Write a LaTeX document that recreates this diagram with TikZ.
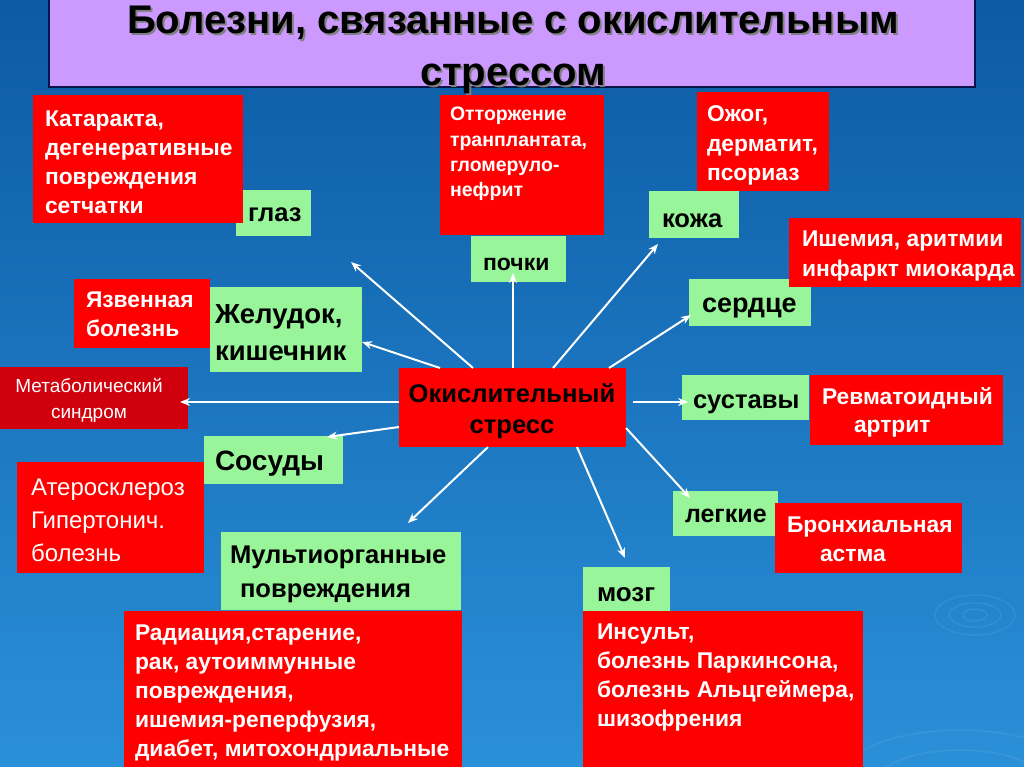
\documentclass[tikz,border=0pt]{standalone}
\usepackage{fontspec}
\setmainfont{Liberation Sans}
\usetikzlibrary{arrows.meta,calc}
\definecolor{bgtop}{RGB}{12,90,164}
\definecolor{bgbot}{RGB}{42,144,216}
\definecolor{ttlfill}{RGB}{204,153,255}
\definecolor{ttlline}{RGB}{10,20,70}
\definecolor{rd}{RGB}{255,0,0}
\definecolor{rdk}{RGB}{208,0,12}
\definecolor{gr}{RGB}{153,245,153}
\newcommand\tstr{\rule{0pt}{1em}}
\begin{document}
\begin{tikzpicture}[x=1pt,y=-1pt,
  box/.style={draw=none,inner sep=0pt,outer sep=0pt,anchor=north west},
  redbox/.style={box,fill=rd},
  grbox/.style={box,fill=gr},
  txt/.style={inner sep=0pt,outer sep=0pt,anchor=north west,align=left},
  wb/.style={txt,text=white,font=\bfseries\fontsize{22.8}{29}\selectfont},
  wr/.style={txt,text=white},
  kb/.style={txt,text=black},
  arr/.style={draw=white,line width=2pt,-{Stealth[length=10pt,width=8pt]}},
  ripple/.style={draw=white,opacity=0.07,line width=1.5pt}
]
\useasboundingbox (0,0) rectangle (1024,767);
\shade[top color=bgtop,bottom color=bgbot] (0,0) rectangle (1024,767);
% ripples
\draw[ripple] (975,615) ellipse [x radius=40,y radius=20];
\draw[ripple] (975,615) ellipse [x radius=26,y radius=12];
\draw[ripple] (975,615) ellipse [x radius=12,y radius=6];
\draw[ripple] (960,790) ellipse [x radius=130,y radius=60];
\draw[ripple] (960,790) ellipse [x radius=90,y radius=40];

% title
\node[box,fill=ttlfill,draw=ttlline,line width=2pt,minimum width=926pt,minimum height=88pt] (title) at (49,-1) {};
\node[txt,anchor=north,align=center,text=gray,font=\bfseries\fontsize{40}{52}\selectfont] (titlesh) at (515,-4) {\tstr Болезни, связанные с окислительным\\стрессом};
\node[txt,anchor=north,align=center,text=black,font=\bfseries\fontsize{40}{52}\selectfont] (titletx) at (513,-6) {\tstr Болезни, связанные с окислительным\\стрессом};

% green boxes
\node[grbox,minimum width=75pt,minimum height=46pt] (glaz) at (236,190) {};
\node[grbox,minimum width=152pt,minimum height=85pt] (zhel) at (210,287) {};
\node[grbox,minimum width=139pt,minimum height=48pt] (sos) at (204,436) {};
\node[grbox,minimum width=240pt,minimum height=78pt] (mult) at (221,532) {};
\node[grbox,minimum width=95pt,minimum height=46pt] (pochki) at (471,236) {};
\node[grbox,minimum width=90pt,minimum height=47pt] (kozha) at (649,191) {};
\node[grbox,minimum width=122pt,minimum height=47pt] (serd) at (689,279) {};
\node[grbox,minimum width=127pt,minimum height=45pt] (sust) at (682,375) {};
\node[grbox,minimum width=105pt,minimum height=45pt] (leg) at (673,491) {};
\node[grbox,minimum width=87pt,minimum height=44pt] (mozg) at (583,567) {};

% red boxes
\node[redbox,minimum width=210pt,minimum height=128pt] (kat) at (33,95) {};
\node[redbox,minimum width=136pt,minimum height=69pt] (yaz) at (74,279) {};
\node[box,fill=rdk,minimum width=188pt,minimum height=62pt] (met) at (0,367) {};
\node[redbox,minimum width=187pt,minimum height=111pt] (ater) at (17,462) {};
\node[redbox,minimum width=338pt,minimum height=160pt] (rad) at (124,611) {};
\node[redbox,minimum width=227pt,minimum height=79pt] (cs) at (399,368) {};
\node[redbox,minimum width=164pt,minimum height=140pt] (ott) at (440,95) {};
\node[redbox,minimum width=132pt,minimum height=99pt] (ozhog) at (697,92) {};
\node[redbox,minimum width=232pt,minimum height=69pt] (ish) at (789,218) {};
\node[redbox,minimum width=193pt,minimum height=70pt] (revm) at (810,375) {};
\node[redbox,minimum width=187pt,minimum height=70pt] (bronh) at (775,503) {};
\node[redbox,minimum width=280pt,minimum height=160pt] (ins) at (583,611) {};

% arrows
\draw[arr] ($(cs.north west)+(74,0)$) -- ($(glaz.south east)+(40,26)$);
\draw[arr] ($(cs.north west)+(41,0)$) -- ($(zhel.north east)+(0,55)$);
\draw[arr] ($(cs.north west)+(114,0)$) -- ($(pochki.south west)+(42,-9)$);
\draw[arr] ($(cs.north west)+(154,0)$) -- ($(kozha.south west)+(9,6)$);
\draw[arr] ($(cs.north west)+(210,0)$) -- ($(serd.north west)+(2,36)$);
\draw[arr] ($(cs.north west)+(0,34)$) -- ($(met.north east)+(-8,35)$);
\draw[arr] ($(cs.north west)+(0,59)$) -- ($(sos.north west)+(123,1)$);
\draw[arr] ($(cs.south west)+(89,0)$) -- ($(mult.north west)+(187,-9)$);
\draw[arr] ($(cs.south west)+(178,0)$) -- ($(mozg.north west)+(42,-9)$);
\draw[arr] ($(cs.north east)+(0,60)$) -- ($(leg.north west)+(17,7)$);
\draw[arr] ($(cs.north east)+(7,34)$) -- ($(sust.north west)+(6,27)$);

% texts in red boxes
\node[wb] (katt) at (45,104) {\tstr Катаракта,\\дегенеративные\\повреждения\\сетчатки};
\node[wb] (yazt) at (86,285) {\tstr Язвенная\\болезнь};
\node[wr,anchor=north,align=center,font=\fontsize{19}{26}\selectfont] (mett) at (89,373) {\tstr Метаболический\\синдром};
\node[wr,font=\fontsize{24}{33}\selectfont] (atert) at (31,471) {\tstr Атеросклероз\\Гипертонич.\\болезнь};
\node[wb] (radt) at (135,618) {\tstr Радиация,старение,\\рак, аутоиммунные\\повреждения,\\ишемия-реперфузия,\\диабет, митохондриальные};
\node[wb,font=\bfseries\fontsize{19.5}{25.5}\selectfont] (ottt) at (450,101) {\tstr Отторжение\\транплантата,\\гломеруло-\\нефрит};
\node[wb,font=\bfseries\fontsize{22.8}{29.5}\selectfont] (ozhogt) at (707,99) {\tstr Ожог,\\дерматит,\\псориаз};
\node[wb,font=\bfseries\fontsize{22.8}{30}\selectfont] (isht) at (802,224) {\tstr Ишемия, аритмии\\инфаркт миокарда};
\node[wb,font=\bfseries\fontsize{22.8}{28}\selectfont] (revmt) at (822,382) {\tstr Ревматоидный\\\hspace*{32pt}артрит};
\node[wb] (bronht) at (787,510) {\tstr Бронхиальная\\\hspace*{33pt}астма};
\node[wb] (inst) at (597,617) {\tstr Инсульт,\\болезнь Паркинсона,\\болезнь Альцгеймера,\\шизофрения};
\node[kb,anchor=north,align=center,font=\bfseries\fontsize{25.6}{31}\selectfont] (cst) at (512,376.4) {\tstr Окислительный\\стресс};

% texts in green boxes
\node[kb,font=\bfseries\fontsize{25.6}{30}\selectfont] (glazt) at (248,196.4) {\tstr глаз};
\node[kb,font=\bfseries\fontsize{27.5}{37}\selectfont] (zhelt) at (215,295.5) {\tstr Желудок,\\кишечник};
\node[kb,font=\bfseries\fontsize{28}{30}\selectfont] (sost) at (215,442) {\tstr Сосуды};
\node[kb,font=\bfseries\fontsize{25.6}{34}\selectfont] (multt) at (230,537.4) {\tstr Мультиорганные\\\hspace*{10pt}повреждения};
\node[kb,font=\bfseries\fontsize{23}{30}\selectfont] (pochkit) at (483,247) {\tstr почки};
\node[kb,font=\bfseries\fontsize{25.6}{30}\selectfont] (kozhat) at (662,201.4) {\tstr кожа};
\node[kb,font=\bfseries\fontsize{27}{30}\selectfont] (serdt) at (702,285) {\tstr сердце};
\node[kb,font=\bfseries\fontsize{25.6}{30}\selectfont] (sustt) at (693,382.4) {\tstr суставы};
\node[kb,font=\bfseries\fontsize{25}{30}\selectfont] (legt) at (685,497) {\tstr легкие};
\node[kb,font=\bfseries\fontsize{26}{30}\selectfont] (mozgt) at (597,575) {\tstr мозг};
\end{tikzpicture}
\end{document}
